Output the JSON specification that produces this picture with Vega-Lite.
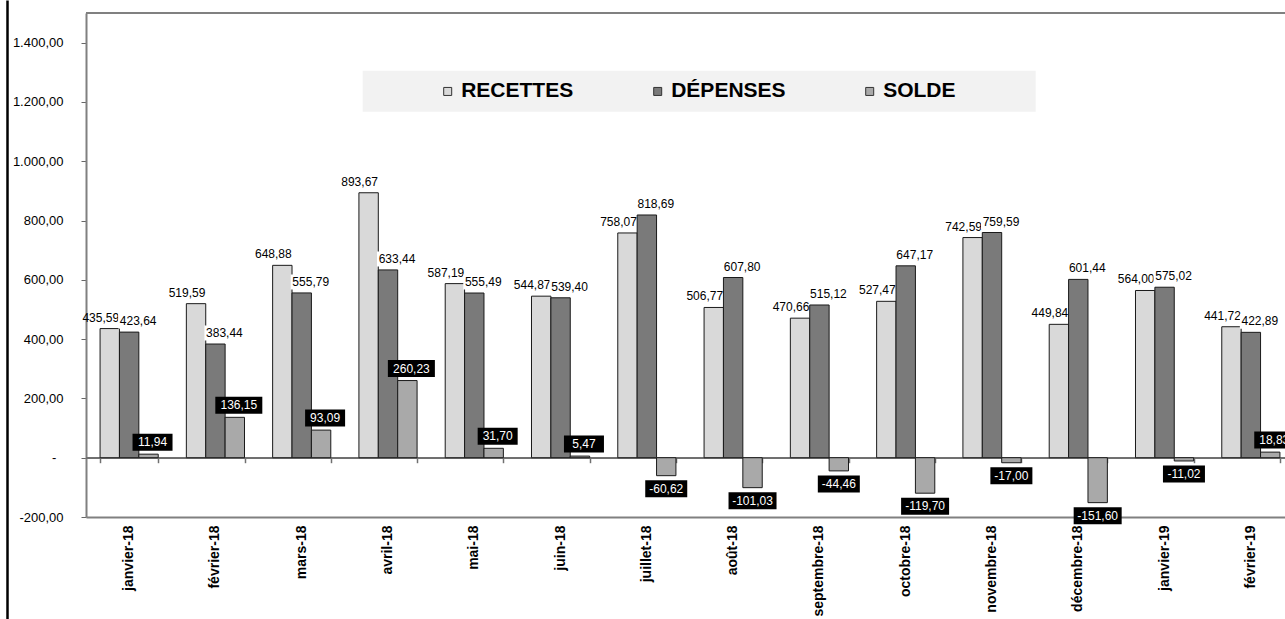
{
  "$schema": "https://vega.github.io/schema/vega-lite/v6.json",
  "width": 1199,
  "height": 504,
  "autosize": {"type": "none"},
  "padding": {"left": 86, "top": 13, "right": 0, "bottom": 102},
  "background": "white",
  "config": {
    "view": {"stroke": null},
    "font": "Liberation Sans",
    "locale": {"number": {"decimal": ",", "thousands": ".", "grouping": [3], "currency": ["", " €"], "minus": "-"}}
  },
  "data": {
    "values": [
      {"month": "janvier-18", "series": "RECETTES", "value": 435.59},
      {"month": "janvier-18", "series": "DÉPENSES", "value": 423.64},
      {"month": "janvier-18", "series": "SOLDE", "value": 11.94},
      {"month": "février-18", "series": "RECETTES", "value": 519.59},
      {"month": "février-18", "series": "DÉPENSES", "value": 383.44},
      {"month": "février-18", "series": "SOLDE", "value": 136.15},
      {"month": "mars-18", "series": "RECETTES", "value": 648.88},
      {"month": "mars-18", "series": "DÉPENSES", "value": 555.79},
      {"month": "mars-18", "series": "SOLDE", "value": 93.09},
      {"month": "avril-18", "series": "RECETTES", "value": 893.67},
      {"month": "avril-18", "series": "DÉPENSES", "value": 633.44},
      {"month": "avril-18", "series": "SOLDE", "value": 260.23},
      {"month": "mai-18", "series": "RECETTES", "value": 587.19},
      {"month": "mai-18", "series": "DÉPENSES", "value": 555.49},
      {"month": "mai-18", "series": "SOLDE", "value": 31.70},
      {"month": "juin-18", "series": "RECETTES", "value": 544.87},
      {"month": "juin-18", "series": "DÉPENSES", "value": 539.40},
      {"month": "juin-18", "series": "SOLDE", "value": 5.47},
      {"month": "juillet-18", "series": "RECETTES", "value": 758.07},
      {"month": "juillet-18", "series": "DÉPENSES", "value": 818.69},
      {"month": "juillet-18", "series": "SOLDE", "value": -60.62},
      {"month": "août-18", "series": "RECETTES", "value": 506.77},
      {"month": "août-18", "series": "DÉPENSES", "value": 607.80},
      {"month": "août-18", "series": "SOLDE", "value": -101.03},
      {"month": "septembre-18", "series": "RECETTES", "value": 470.66},
      {"month": "septembre-18", "series": "DÉPENSES", "value": 515.12},
      {"month": "septembre-18", "series": "SOLDE", "value": -44.46},
      {"month": "octobre-18", "series": "RECETTES", "value": 527.47},
      {"month": "octobre-18", "series": "DÉPENSES", "value": 647.17},
      {"month": "octobre-18", "series": "SOLDE", "value": -119.70},
      {"month": "novembre-18", "series": "RECETTES", "value": 742.59},
      {"month": "novembre-18", "series": "DÉPENSES", "value": 759.59},
      {"month": "novembre-18", "series": "SOLDE", "value": -17.00},
      {"month": "décembre-18", "series": "RECETTES", "value": 449.84},
      {"month": "décembre-18", "series": "DÉPENSES", "value": 601.44},
      {"month": "décembre-18", "series": "SOLDE", "value": -151.60},
      {"month": "janvier-19", "series": "RECETTES", "value": 564.00},
      {"month": "janvier-19", "series": "DÉPENSES", "value": 575.02},
      {"month": "janvier-19", "series": "SOLDE", "value": -11.02},
      {"month": "février-19", "series": "RECETTES", "value": 441.72},
      {"month": "février-19", "series": "DÉPENSES", "value": 422.89},
      {"month": "février-19", "series": "SOLDE", "value": 18.83}
    ]
  },
  "layer": [
    {
      "layer": [
        {
          "mark": {"type": "rule", "color": "#808080", "strokeWidth": 2},
          "encoding": {"y": {"datum": 1500, "type": "quantitative", "title": null}}
        },
        {
          "mark": {"type": "rule", "color": "#707070", "strokeWidth": 1.5},
          "encoding": {"y": {"datum": 0, "type": "quantitative", "title": null}}
        },
        {
          "mark": {"type": "bar", "stroke": "#1a1a1a", "strokeWidth": 1},
          "encoding": {
            "x": {
              "field": "month", "type": "nominal",
              "scale": {
                "domain": ["janvier-18", "février-18", "mars-18", "avril-18", "mai-18", "juin-18", "juillet-18", "août-18", "septembre-18", "octobre-18", "novembre-18", "décembre-18", "janvier-19", "février-19"],
                "range": [0, 1208], "paddingInner": 0.326, "paddingOuter": 0.163
              },
              "axis": {
                "orient": "bottom", "title": null, "labelAngle": -90, "labelFontSize": 14,
                "labelFontWeight": "bold", "labelColor": "#000", "labelPadding": 8, "labelLimit": 200,
                "ticks": false, "domainColor": "#808080", "domainWidth": 2, "grid": false
              }
            },
            "xOffset": {
              "field": "series", "type": "nominal",
              "scale": {"domain": ["RECETTES", "DÉPENSES", "SOLDE"], "paddingInner": 0, "paddingOuter": 0}
            },
            "y": {
              "field": "value", "type": "quantitative", "title": null,
              "scale": {"domain": [-200, 1500], "nice": false, "zero": true},
              "axis": {
                "orient": "left", "title": null, "values": [-200, 0, 200, 400, 600, 800, 1000, 1200, 1400],
                "format": ",.2f",
                "labelExpr": "datum.value == 0 ? '-\u00a0\u00a0\u200b' : datum.label",
                "labelFontSize": 13, "labelColor": "#000", "labelPadding": 18,
                "tickSize": 5, "tickColor": "#666", "domainColor": "#808080", "domainWidth": 2, "grid": false
              }
            },
            "color": {
              "field": "series", "type": "nominal",
              "scale": {"domain": ["RECETTES", "DÉPENSES", "SOLDE"], "range": ["#d9d9d9", "#7a7a7a", "#a9a9a9"]},
              "legend": {
                "orient": "none", "legendX": 276.7, "legendY": 57.7, "direction": "horizontal",
                "fillColor": "#f2f2f2", "padding": 10,
                "title": "MMM",
                "titleOrient": "left", "titleFontSize": 21, "titleFontWeight": "normal", "titlePadding": 11.5, "titleOpacity": 0,
                "labelFont": "Liberation Sans", "labelFontWeight": "bold", "labelFontSize": 21, "labelColor": "#000",
                "labelExpr": "datum.label == 'SOLDE' ? 'SOLDE\u00a0\u00a0\u00a0\u00a0\u00a0\u00a0\u00a0\u00a0\u00a0\u00a0\u00a0\u00a0\u200b' : datum.label",
                "labelLimit": 400, "labelOffset": 3, "columnPadding": 73,
                "symbolType": "square", "symbolSize": 64, "symbolStrokeColor": "#333", "symbolStrokeWidth": 1
              }
            }
          }
        },
        {
          "transform": [{"filter": "datum.series == 'RECETTES'"}],
          "mark": {"type": "text", "dx": -9, "dy": -11, "baseline": "middle", "fontSize": 12, "color": "#000"},
          "encoding": {
            "x": {"field": "month", "type": "nominal", "axis": null},
            "xOffset": {"field": "series", "type": "nominal"},
            "y": {"field": "value", "type": "quantitative", "title": null},
            "text": {"field": "value", "type": "quantitative", "format": ",.2f"}
          }
        },
        {
          "transform": [{"filter": "datum.series == 'DÉPENSES'"}],
          "mark": {"type": "point", "filled": true, "fill": "#ffffff", "opacity": 1, "strokeWidth": 0, "size": 400, "shape": "M-1.1,-1.85H2.9V-0.35H-1.1Z"},
          "encoding": {
            "x": {"field": "month", "type": "nominal", "axis": null},
            "xOffset": {"field": "series", "type": "nominal"},
            "y": {"field": "value", "type": "quantitative", "title": null}
          }
        },
        {
          "transform": [{"filter": "datum.series == 'DÉPENSES'"}],
          "mark": {"type": "text", "dx": 9, "dy": -11, "baseline": "middle", "fontSize": 12, "color": "#000"},
          "encoding": {
            "x": {"field": "month", "type": "nominal", "axis": null},
            "xOffset": {"field": "series", "type": "nominal"},
            "y": {"field": "value", "type": "quantitative", "title": null},
            "text": {"field": "value", "type": "quantitative", "format": ",.2f"}
          }
        },
        {
          "transform": [{"filter": "datum.series == 'SOLDE'"}],
          "mark": {"type": "point", "filled": true, "fill": "#000000", "opacity": 1, "strokeWidth": 0, "size": 400},
          "encoding": {
            "x": {
              "field": "month", "type": "nominal",
              "axis": {
                "orient": "bottom", "offset": -59.3, "labels": false, "domain": false, "ticks": true,
                "tickBand": "extent", "tickSize": 5, "tickColor": "#707070", "tickWidth": 1.5, "title": null, "grid": false
              }
            },
            "xOffset": {"field": "series", "type": "nominal"},
            "y": {"field": "value", "type": "quantitative", "title": null},
            "shape": {
              "condition": [
                {"test": "datum.value >= 100", "value": "M-1.95,-2.05H2.75V-0.35H-1.95Z"},
                {"test": "datum.value >= 0", "value": "M-1.6,-2.05H2.4V-0.35H-1.6Z"},
                {"test": "datum.value <= -100", "value": "M-2.4,0.45H2.4V2.15H-2.4Z"}
              ],
              "value": "M-2.1,0.45H2.1V2.15H-2.1Z"
            }
          }
        },
        {
          "transform": [{"filter": "datum.series == 'SOLDE' && datum.value >= 0"}],
          "mark": {"type": "text", "dx": 4, "dy": -12, "baseline": "middle", "fontSize": 12, "color": "#ffffff"},
          "encoding": {
            "x": {"field": "month", "type": "nominal", "axis": null},
            "xOffset": {"field": "series", "type": "nominal"},
            "y": {"field": "value", "type": "quantitative", "title": null},
            "text": {"field": "value", "type": "quantitative", "format": ",.2f"}
          }
        },
        {
          "transform": [{"filter": "datum.series == 'SOLDE' && datum.value < 0"}],
          "mark": {"type": "text", "dx": 0, "dy": 13, "baseline": "middle", "fontSize": 12, "color": "#ffffff"},
          "encoding": {
            "x": {"field": "month", "type": "nominal", "axis": null},
            "xOffset": {"field": "series", "type": "nominal"},
            "y": {"field": "value", "type": "quantitative", "title": null},
            "text": {"field": "value", "type": "quantitative", "format": ",.2f"}
          }
        }
      ],
      "resolve": {"axis": {"x": "independent"}}
    },
    {
      "mark": {"type": "point", "opacity": 0},
      "encoding": {
        "y": {
          "datum": 0.5, "type": "quantitative",
          "scale": {"domain": [0, 1], "range": [606, -13]},
          "axis": {"orient": "left", "offset": 79, "labels": false, "ticks": false, "grid": false, "title": null, "domainColor": "#000", "domainWidth": 2.5}
        }
      }
    }
  ],
  "resolve": {"scale": {"y": "independent"}, "axis": {"y": "independent"}}
}
